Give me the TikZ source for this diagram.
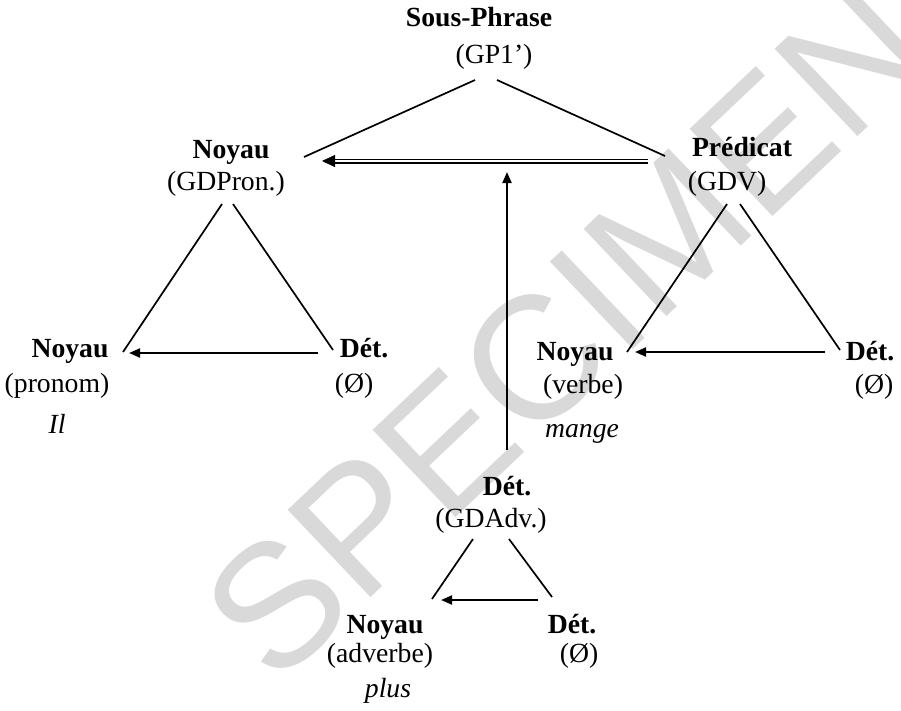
\documentclass[tikz,border=0pt]{standalone}
\usepackage{fontspec}
\setmainfont{Liberation Serif}
\newfontfamily\wmfont{Liberation Sans}
\usetikzlibrary{arrows.meta}
\begin{document}
\begin{tikzpicture}[x=1pt,y=-1pt,
  lbl/.style={inner sep=0pt, anchor=base, font=\fontsize{27.7}{33}\selectfont},
  bl/.style={lbl, font=\fontsize{27.7}{33}\selectfont\bfseries},
  itl/.style={lbl, font=\fontsize{27.7}{33}\selectfont\itshape},
  edge/.style={line width=1.7pt},
  arr/.style={line width=2pt, -{Triangle[length=11pt,width=9pt]}},
  dblline/.style={double, double distance=2.2pt, line width=1.4pt},
  dbltip/.style={line width=0.5pt, -{Triangle[length=13pt,width=12pt]}},
  wm/.style={inner sep=0pt, text=black!15, font=\wmfont\fontsize{175}{175}\selectfont, rotate=43.5}]
\useasboundingbox (0,0) rectangle (901,710);
% watermark
\node[wm] (wmark) at (566,330) {SPECIMEN};
% labels
\node[bl]  (sp)    at (479,26)  {Sous-Phrase};
\node[lbl] (gp)    at (494,63)  {(GP1’)};
\node[bl]  (ny1)   at (231,158) {Noyau};
\node[lbl] (gdp)   at (226,190) {(GDPron.)};
\node[bl]  (pred)  at (742,156) {Prédicat};
\node[lbl] (gdv)   at (727,190) {(GDV)};
\node[bl]  (nyL)   at (70,357)  {Noyau};
\node[lbl] (pron)  at (57,392)  {(pronom)};
\node[itl] (il)    at (57,433)  {Il};
\node[bl]  (detL)  at (364,357) {Dét.};
\node[lbl] (oL)    at (354,392) {(Ø)};
\node[bl]  (nyR)   at (575,360) {Noyau};
\node[lbl] (verb)  at (583,393) {(verbe)};
\node[itl] (mange) at (582,437) {mange};
\node[bl]  (detR)  at (870,360) {Dét.};
\node[lbl] (oR)    at (874,393) {(Ø)};
\node[bl]  (detM)  at (507,495) {Dét.};
\node[lbl] (gda)   at (491,527) {(GDAdv.)};
\node[bl]  (nyB)   at (385,633) {Noyau};
\node[lbl] (adv)   at (380,662) {(adverbe)};
\node[itl] (plus)  at (388,697) {plus};
\node[bl]  (detB)  at (572,633) {Dét.};
\node[lbl] (oB)    at (579,662) {(Ø)};
% connector end points
\coordinate (spL) at (475,80);  \coordinate (spLe) at (304,157);
\coordinate (spR) at (497,80);  \coordinate (spRe) at (665,156);
\coordinate (dR) at (648,161);  \coordinate (dLb) at (333,161); \coordinate (dL) at (322,161);
\coordinate (vB) at (507,450);  \coordinate (vT) at (507,172);
\coordinate (t1a) at (222,204); \coordinate (t1b) at (123,352);
\coordinate (t1c) at (233,204); \coordinate (t1d) at (333,350);
\coordinate (a1s) at (318,353); \coordinate (a1e) at (129,353);
\coordinate (t2a) at (727,204); \coordinate (t2b) at (627,352);
\coordinate (t2c) at (740,204); \coordinate (t2d) at (840,350);
\coordinate (a2s) at (825,352); \coordinate (a2e) at (635,352);
\coordinate (t3a) at (473,539); \coordinate (t3b) at (432,599);
\coordinate (t3c) at (509,539); \coordinate (t3d) at (552,597);
\coordinate (a3s) at (538,600); \coordinate (a3e) at (441,600);
% connectors
\draw[edge] (spL) -- (spLe);
\draw[edge] (spR) -- (spRe);
\draw[dblline] (dR) -- (dLb);
\draw[dbltip] (dLb) -- (dL);
\draw[arr] (vB) -- (vT);
\draw[edge] (t1a) -- (t1b);
\draw[edge] (t1c) -- (t1d);
\draw[arr] (a1s) -- (a1e);
\draw[edge] (t2a) -- (t2b);
\draw[edge] (t2c) -- (t2d);
\draw[arr] (a2s) -- (a2e);
\draw[edge] (t3a) -- (t3b);
\draw[edge] (t3c) -- (t3d);
\draw[arr] (a3s) -- (a3e);
\end{tikzpicture}
\end{document}
